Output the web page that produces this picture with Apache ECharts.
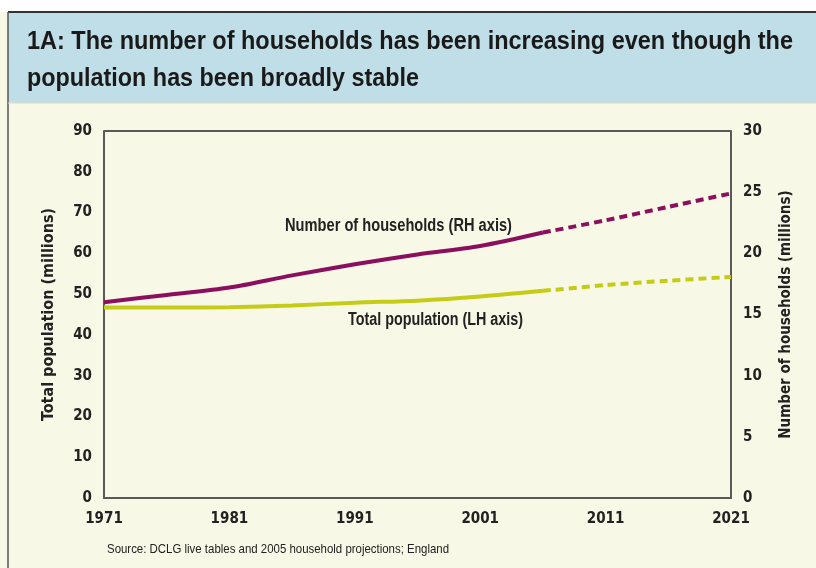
<!DOCTYPE html>
<html>
<head>
<meta charset="utf-8">
<script src="https://cdn.jsdelivr.net/npm/echarts@6/dist/echarts.min.js"></script>
<style>
  html, body { margin: 0; padding: 0; background: #ffffff; }
  #chart { width: 816px; height: 568px; }
</style>
</head>
<body>
<div id="chart"></div>
<script>
// Years and values (millions), England
const actualYears = [1971, 1976, 1981, 1986, 1991, 1996, 2001, 2006];
const projYears = [2006, 2011, 2016, 2021];
const populationActual = [46.7, 46.7, 46.8, 47.2, 47.9, 48.4, 49.4, 50.8];
const populationProj = [50.8, 52.2, 53.3, 54.2];
const householdsActual = [16.0, 16.6, 17.2, 18.2, 19.1, 19.9, 20.6, 21.7];
const householdsProj = [21.7, 22.7, 23.8, 24.9];
const xTickLabels = [1971, 1981, 1991, 2001, 2011, 2021];

const AXIS_FONT = '"DejaVu Sans Condensed", "Liberation Sans", sans-serif';
const TEXT_FONT = '"Liberation Sans", Arial, sans-serif';
const PURPLE = '#8c0f5e';
const LIME = '#c4cc16';

const pairs = (xs, ys) => xs.map((x, i) => [x, ys[i]]);

// Horizontal squeeze factor so a single line of text spans the given width
const measureCtx = document.createElement('canvas').getContext('2d');
function squeeze(text, size, weight, width) {
  measureCtx.font = weight + ' ' + size + 'px ' + TEXT_FONT;
  return width / measureCtx.measureText(text).width;
}

// Condensed text line drawn with its top-left corner at (x, y)
function narrowText(text, x, y, size, weight, width, color) {
  const s = squeeze(text, size, weight, width);
  return {
    type: 'text', x, y, scaleX: s, silent: true, z: 20,
    style: {
      text, fontFamily: TEXT_FONT, fontSize: size,
      fontWeight: weight, fill: color
    }
  };
}

const chart = echarts.init(document.getElementById('chart'), null, { renderer: 'canvas' });

const lineStyle = (color, dashed) => ({
  color, width: 4, type: dashed ? [8, 5] : 'solid', cap: 'butt'
});

const yAxisBase = {
  type: 'value', nameLocation: 'middle', nameGap: 47,
  nameTextStyle: { color: '#222', fontFamily: AXIS_FONT, fontSize: 16, fontWeight: 'bold' },
  axisLine: { show: true, lineStyle: { color: '#5a5a5a', width: 2 } },
  axisTick: { show: false },
  splitLine: { show: false },
  axisLabel: { margin: 12, color: '#222', fontFamily: AXIS_FONT, fontSize: 15, fontWeight: 'bold' }
};

chart.setOption({
  backgroundColor: '#f8f8e6',
  animation: false,
  grid: { left: 104, right: 85, top: 131, bottom: 70, show: false },
  xAxis: {
    type: 'value', min: 1971, max: 2021,
    axisLine: { show: true, lineStyle: { color: '#5a5a5a', width: 2 } },
    axisTick: { show: false },
    splitLine: { show: false },
    axisLabel: {
      customValues: xTickLabels, formatter: v => String(v),
      margin: 14, color: '#222', fontFamily: AXIS_FONT, fontSize: 15, fontWeight: 'bold'
    }
  },
  yAxis: [
    Object.assign({}, yAxisBase, {
      min: 0, max: 90, interval: 10, position: 'left',
      name: 'Total population (millions)'
    }),
    Object.assign({}, yAxisBase, {
      min: 0, max: 30, interval: 5, position: 'right',
      name: 'Number of households (millions)', nameGap: 48,
      nameTextStyle: { color: '#222', fontFamily: AXIS_FONT, fontSize: 15, fontWeight: 'bold' }
    })
  ],
  series: [
    {
      name: 'Total population', type: 'line', yAxisIndex: 0, smooth: 0.3,
      data: pairs(actualYears, populationActual), showSymbol: false,
      lineStyle: lineStyle(LIME, false), z: 3
    },
    {
      name: 'Total population (projected)', type: 'line', yAxisIndex: 0, smooth: 0.3,
      data: pairs(projYears, populationProj), showSymbol: false,
      lineStyle: lineStyle(LIME, true), z: 3
    },
    {
      name: 'Number of households', type: 'line', yAxisIndex: 1, smooth: 0.3,
      data: pairs(actualYears, householdsActual), showSymbol: false,
      lineStyle: lineStyle(PURPLE, false), z: 4
    },
    {
      name: 'Number of households (projected)', type: 'line', yAxisIndex: 1, smooth: 0.3,
      data: pairs(projYears, householdsProj), showSymbol: false,
      lineStyle: lineStyle(PURPLE, true), z: 4
    }
  ],
  graphic: [
    // white strip above the heading band
    { type: 'rect', z: 1, shape: { x: 0, y: 0, width: 816, height: 12 }, style: { fill: '#ffffff' }, silent: true },
    // heading band
    { type: 'rect', z: 1, shape: { x: 8, y: 12, width: 808, height: 91 }, style: { fill: '#c0dee7' }, silent: true },
    { type: 'line', z: 2, shape: { x1: 8, y1: 12, x2: 816, y2: 12 }, style: { stroke: '#333', lineWidth: 2 }, silent: true },
    { type: 'line', z: 2, shape: { x1: 8, y1: 12, x2: 8, y2: 568 }, style: { stroke: '#555', lineWidth: 1.5 }, silent: true },
    { type: 'line', z: 2, shape: { x1: 8, y1: 103, x2: 816, y2: 103 }, style: { stroke: '#d8dcc8', lineWidth: 1 }, silent: true },
    // heading, two lines
    narrowText('1A: The number of households has been increasing even though the', 27, 29, 26, 'bold', 766, '#1a1a1a'),
    narrowText('population has been broadly stable', 27, 66, 26, 'bold', 392, '#1a1a1a'),
    // plot frame top edge
    { type: 'line', z: 2, shape: { x1: 104, y1: 131, x2: 731, y2: 131 }, style: { stroke: '#5a5a5a', lineWidth: 2 }, silent: true },
    // series labels
    narrowText('Number of households (RH axis)', 285, 217, 18, 'bold', 227, '#222'),
    narrowText('Total population (LH axis)', 348, 311, 18, 'bold', 175, '#222'),
    narrowText('Source: DCLG live tables and 2005 household projections; England', 107, 543, 13, 'normal', 342, '#222')
  ]
});
</script>
</body>
</html>
